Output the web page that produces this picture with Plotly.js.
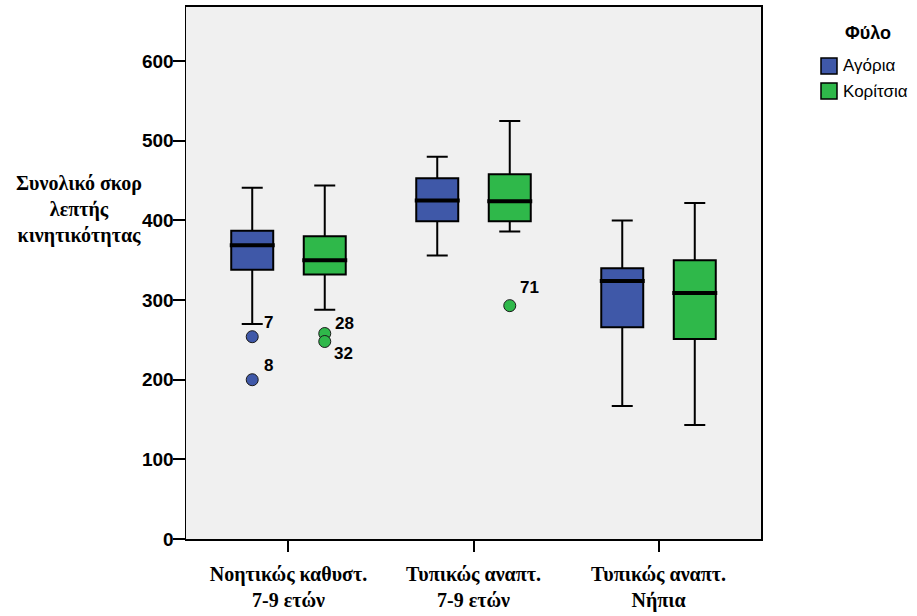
<!DOCTYPE html>
<html>
<head>
<meta charset="utf-8">
<script src="https://cdn.plot.ly/plotly-3.0.1.min.js"></script>
<style>
  html, body { margin: 0; padding: 0; background: #ffffff; }
  #chart { width: 917px; height: 616px; }
</style>
</head>
<body>
<div id="chart"></div>
<script>
// Groups on the x axis
const categories = [
  'Νοητικώς καθυστ.<br>7-9 ετών',
  'Τυπικώς αναπτ.<br>7-9 ετών',
  'Τυπικώς αναπτ.<br>Νήπια'
];

// Series names (legend)
const seriesNames = ['Αγόρια', 'Κορίτσια'];

// Box statistics – boys
const boysLower  = [270, 356, 167];
const boysQ1     = [338, 399, 266];
const boysMedian = [369, 425, 324];
const boysQ3     = [387, 453, 340];
const boysUpper  = [441, 480, 400];

// Box statistics – girls
const girlsLower  = [288, 386, 143];
const girlsQ1     = [332, 399, 251];
const girlsMedian = [350, 424, 309];
const girlsQ3     = [380, 458, 350];
const girlsUpper  = [444, 525, 422];

// Outliers (group index, value, case label)
const boysOutGroup  = [0, 0];
const boysOutValue  = [254, 200];
const boysOutLabel  = ['7', '8'];
const girlsOutGroup = [0, 0, 1];
const girlsOutValue = [258, 248, 293];
const girlsOutLabel = ['28', '32', '71'];

// y axis ticks
const yTicks = [0, 100, 200, 300, 400, 500, 600];

// ---- styling / geometry ----
const BLUE = '#3f58a8';
const GREEN = '#2fb84a';
const SERIF = "'Times New Roman', Times, 'Liberation Serif', 'DejaVu Serif', 'Noto Serif', FreeSerif, serif";
const SANS = "'Liberation Sans', Arial, sans-serif";
const OFFSET = 0.196;   // box centre offset from category centre
const BOXW = 0.227;     // box width in category units
const boysLabelShift  = [[10, 14], [10, 14]];
const girlsLabelShift = [[8, 10], [7, -12], [8, 18]];

const idx = categories.map((_, i) => i);
const boysPos = idx.map(i => i - OFFSET);
const girlsPos = idx.map(i => i + OFFSET);

function boxTrace(name, pos, lo, q1, med, q3, hi, color) {
  return {
    type: 'box', name: name, x: pos,
    lowerfence: lo, q1: q1, median: med, q3: q3, upperfence: hi,
    width: BOXW, whiskerwidth: 0.5, boxpoints: false,
    fillcolor: color, line: { color: '#000000', width: 2 },
    showlegend: false, hoverinfo: 'skip'
  };
}

function outlierTrace(groups, values, color, side) {
  return {
    type: 'scatter', mode: 'markers',
    x: groups.map(g => g + side * OFFSET), y: values,
    marker: { size: 12, color: color, line: { color: '#1a1a1a', width: 1 } },
    showlegend: false, hoverinfo: 'skip'
  };
}

const traces = [
  boxTrace(seriesNames[0], boysPos, boysLower, boysQ1, boysMedian, boysQ3, boysUpper, BLUE),
  boxTrace(seriesNames[1], girlsPos, girlsLower, girlsQ1, girlsMedian, girlsQ3, girlsUpper, GREEN),
  outlierTrace(boysOutGroup, boysOutValue, BLUE, -1),
  outlierTrace(girlsOutGroup, girlsOutValue, GREEN, 1)
];

// thick median bars
const shapes = [];
function addMedians(pos, med) {
  pos.forEach((p, i) => {
    shapes.push({
      type: 'line', xref: 'x', yref: 'y',
      x0: p - BOXW / 2 - 0.008, x1: p + BOXW / 2 + 0.008,
      y0: med[i], y1: med[i],
      line: { color: '#000000', width: 4 }
    });
  });
}
addMedians(boysPos, boysMedian);
addMedians(girlsPos, girlsMedian);

// legend built from shapes + text
const legendX = 821, legendTop = 58, legendStep = 25, sw = 16;
const W = 917, H = 616, ML = 186, MR = 156, MT = 7, MB = 77;
const pw = W - ML - MR, ph = H - MT - MB;
const px = x => (x - ML) / pw;
const py = y => (H - MB - y) / ph;

const annotations = [];
[BLUE, GREEN].forEach((c, i) => {
  const top = legendTop + i * legendStep;
  shapes.push({
    type: 'rect', xref: 'paper', yref: 'paper',
    x0: px(legendX), x1: px(legendX + sw), y0: py(top + sw), y1: py(top),
    fillcolor: c, line: { color: '#000000', width: 1.5 }
  });
  annotations.push({
    xref: 'paper', yref: 'paper', x: px(legendX + sw + 4), y: py(top + sw / 2),
    xanchor: 'left', yanchor: 'middle', showarrow: false,
    text: seriesNames[i],
    font: { family: SANS, size: 17, color: '#000000' }
  });
});
annotations.push({
  xref: 'paper', yref: 'paper', x: px(868), y: py(33),
  xanchor: 'center', yanchor: 'middle', showarrow: false,
  text: '<b>Φύλο</b>',
  font: { family: SANS, size: 18, color: '#000000' }
});

// y axis title
annotations.push({
  xref: 'paper', yref: 'paper', x: px(79), y: py(210),
  xanchor: 'center', yanchor: 'middle', showarrow: false, align: 'center',
  text: '<b>Συνολικό σκορ<br>λεπτής<br>κινητικότητας</b>',
  font: { family: SERIF, size: 20, color: '#000000' }
});

// outlier case labels
function addLabels(groups, values, labels, side, shifts) {
  labels.forEach((t, i) => {
    annotations.push({
      xref: 'x', yref: 'y', x: groups[i] + side * OFFSET, y: values[i],
      xshift: shifts[i][0], yshift: shifts[i][1],
      xanchor: 'left', yanchor: 'middle', showarrow: false,
      text: '<b>' + t + '</b>',
      font: { family: SANS, size: 17, color: '#000000' }
    });
  });
}
addLabels(boysOutGroup, boysOutValue, boysOutLabel, -1, boysLabelShift);
addLabels(girlsOutGroup, girlsOutValue, girlsOutLabel, 1, girlsLabelShift);

const layout = {
  width: W, height: H,
  margin: { l: ML, r: MR, t: MT, b: MB, pad: 0 },
  paper_bgcolor: '#ffffff',
  plot_bgcolor: '#f0f0f0',
  showlegend: false,
  xaxis: {
    range: [-0.554, 2.554], tickmode: 'array', tickvals: idx,
    ticktext: categories.map(c => '<b>' + c.replace('<br>', '</b><br><b>') + '</b>'),
    ticks: 'outside', ticklen: 11, tickwidth: 2, tickcolor: '#000000',
    ticklabelstandoff: 5,
    showline: true, linecolor: '#000000', linewidth: 2, mirror: true,
    showgrid: false, zeroline: false, fixedrange: true,
    tickfont: { family: SERIF, size: 20, color: '#000000' }
  },
  yaxis: {
    range: [0, 668], tickmode: 'array', tickvals: yTicks,
    ticktext: yTicks.map(v => '<b>' + v + '</b>'),
    ticks: 'outside', ticklen: 12, tickwidth: 2, tickcolor: '#000000',
    ticklabelstandoff: -5,
    showline: true, linecolor: '#000000', linewidth: 1.5, mirror: true,
    showgrid: false, zeroline: false, fixedrange: true,
    tickfont: { family: SANS, size: 19, color: '#000000' }
  },
  shapes: shapes,
  annotations: annotations
};

Plotly.newPlot('chart', traces, layout, { displayModeBar: false, staticPlot: true });
</script>
</body>
</html>
